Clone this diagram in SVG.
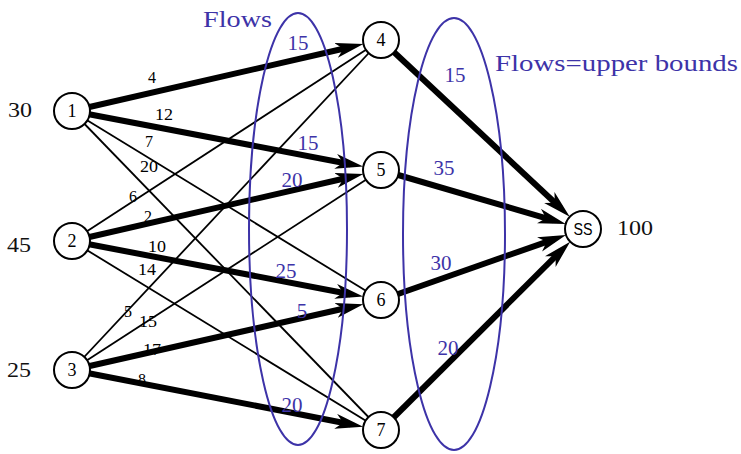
<svg xmlns="http://www.w3.org/2000/svg" width="741" height="454" viewBox="0 0 741 454">
<style>
.thin{stroke:#000;stroke-width:1.8;fill:none}
.thick{stroke:#000;stroke-width:6;fill:none;marker-end:url(#arr)}
.node circle{fill:#fff;stroke:#000;stroke-width:2}
.oval{fill:none;stroke:#3d33a8;stroke-width:2}
</style>
<defs>
<marker id="arr" markerUnits="userSpaceOnUse" markerWidth="28" markerHeight="16" viewBox="0 0 26 14" refX="14" refY="7" orient="auto">
<path d="M0,0 L26,7 L0,14 L7,7 z" fill="#000"/>
</marker>
</defs>
<rect width="741" height="454" fill="#fff"/>
<g id="connectors">
<line class="thin" x1="72" y1="111" x2="381" y2="300"/>
<line class="thin" x1="72" y1="111" x2="381" y2="430"/>
<line class="thin" x1="72" y1="241" x2="381" y2="40"/>
<line class="thin" x1="72" y1="241" x2="381" y2="430"/>
<line class="thin" x1="72" y1="370" x2="381" y2="40"/>
<line class="thin" x1="72" y1="370" x2="381" y2="170"/>
<line class="thick" x1="72" y1="111" x2="350.8" y2="47"/>
<line class="thick" x1="72" y1="111" x2="350.5" y2="164.2"/>
<line class="thick" x1="72" y1="241" x2="350.8" y2="177"/>
<line class="thick" x1="72" y1="241" x2="350.5" y2="294.2"/>
<line class="thick" x1="72" y1="370" x2="350.8" y2="307"/>
<line class="thick" x1="72" y1="370" x2="350.5" y2="424.2"/>
<line class="thick" x1="381" y1="40" x2="560.3" y2="207.8"/>
<line class="thick" x1="381" y1="170" x2="553.3" y2="220.3"/>
<line class="thick" x1="381" y1="300" x2="553.8" y2="239.3"/>
<line class="thick" x1="381" y1="430" x2="561" y2="250.9"/>
</g>
<g id="edge-labels" font-family="Liberation Serif, Times New Roman, serif" font-size="16" text-anchor="middle" fill="#000">
<text x="152" y="83">4</text>
<text x="164" y="120" textLength="18" lengthAdjust="spacingAndGlyphs">12</text>
<text x="149" y="147">7</text>
<text x="149" y="172" textLength="18" lengthAdjust="spacingAndGlyphs">20</text>
<text x="133" y="202">6</text>
<text x="148" y="222">2</text>
<text x="157" y="252" textLength="18" lengthAdjust="spacingAndGlyphs">10</text>
<text x="147" y="275" textLength="18" lengthAdjust="spacingAndGlyphs">14</text>
<text x="128" y="317">5</text>
<text x="148" y="327" textLength="18" lengthAdjust="spacingAndGlyphs">15</text>
<text x="152" y="355" textLength="18" lengthAdjust="spacingAndGlyphs">17</text>
<text x="142" y="385">8</text>
</g>
<g id="ovals">
<ellipse class="oval" cx="298" cy="229" rx="49" ry="216"/>
<ellipse class="oval" cx="454" cy="234" rx="51" ry="216"/>
</g>
<g id="flow-labels" font-family="Liberation Serif, Times New Roman, serif" font-size="21" text-anchor="middle" fill="#3d33a8">
<text x="298" y="50" textLength="21" lengthAdjust="spacingAndGlyphs">15</text>
<text x="308" y="150" textLength="21" lengthAdjust="spacingAndGlyphs">15</text>
<text x="292" y="187" textLength="21" lengthAdjust="spacingAndGlyphs">20</text>
<text x="286" y="278" textLength="21" lengthAdjust="spacingAndGlyphs">25</text>
<text x="302" y="318">5</text>
<text x="292" y="412" textLength="21" lengthAdjust="spacingAndGlyphs">20</text>
<text x="455" y="82" textLength="21" lengthAdjust="spacingAndGlyphs">15</text>
<text x="444" y="175" textLength="21" lengthAdjust="spacingAndGlyphs">35</text>
<text x="441" y="270" textLength="21" lengthAdjust="spacingAndGlyphs">30</text>
<text x="448" y="355" textLength="21" lengthAdjust="spacingAndGlyphs">20</text>
</g>
<g id="titles" font-family="Liberation Serif, Times New Roman, serif" font-size="23" fill="#3d33a8">
<text x="203" y="27" textLength="69" lengthAdjust="spacingAndGlyphs">Flows</text>
<text x="495" y="71" textLength="243" lengthAdjust="spacingAndGlyphs">Flows=upper bounds</text>
</g>
<g id="supplies" font-family="Liberation Serif, Times New Roman, serif" font-size="21" text-anchor="middle" fill="#111">
<text x="20" y="117" textLength="24" lengthAdjust="spacingAndGlyphs">30</text>
<text x="19" y="252" textLength="24" lengthAdjust="spacingAndGlyphs">45</text>
<text x="19" y="377" textLength="24" lengthAdjust="spacingAndGlyphs">25</text>
<text x="635" y="235" textLength="36" lengthAdjust="spacingAndGlyphs">100</text>
</g>
<g font-family="Liberation Serif, Times New Roman, serif" font-size="18" text-anchor="middle" fill="#000">
<g id="n1" class="node"><circle cx="72" cy="111" r="18"/><text x="72" y="117">1</text></g>
<g id="n2" class="node"><circle cx="72" cy="241" r="18"/><text x="72" y="247">2</text></g>
<g id="n3" class="node"><circle cx="72" cy="370" r="18"/><text x="72" y="376">3</text></g>
<g id="n4" class="node"><circle cx="381" cy="40" r="18"/><text x="381" y="46">4</text></g>
<g id="n5" class="node"><circle cx="381" cy="170" r="18"/><text x="381" y="176">5</text></g>
<g id="n6" class="node"><circle cx="381" cy="300" r="18"/><text x="381" y="306">6</text></g>
<g id="n7" class="node"><circle cx="381" cy="430" r="18"/><text x="381" y="436">7</text></g>
<g id="ss" class="node"><circle cx="583" cy="229" r="18"/><text x="583" y="235" font-family="Liberation Sans, Arial, sans-serif" font-size="16" textLength="19" lengthAdjust="spacingAndGlyphs">SS</text></g>
</g>
</svg>
